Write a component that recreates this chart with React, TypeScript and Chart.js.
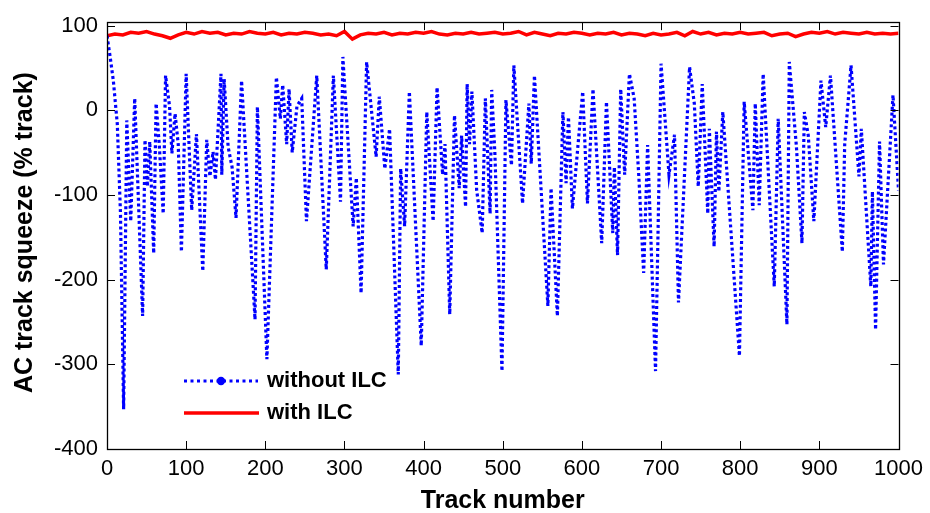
import React, { useEffect, useRef } from "react";
import { Chart, registerables } from "chart.js";

Chart.register(...registerables);

// Blue series (without ILC): track number / squeeze value read at turning points
const blueTrack = [
  0, 4, 8, 13, 17, 21, 25, 30, 35, 45, 48, 51, 54, 59, 62, 66, 71, 74, 79, 82, 86, 90, 94,
  100, 107, 113, 121, 126, 130, 134, 137, 144, 145, 148, 153, 158, 163, 170, 187, 190, 202,
  214, 219, 222, 227, 230, 234, 240, 246, 252, 265, 277, 286, 295, 298, 306, 311, 315, 321,
  328, 340, 344, 351, 357, 368, 371, 376, 382, 397, 404, 412, 417, 424, 427, 433, 439, 445,
  448, 453, 455, 458, 461, 467, 474, 478, 484, 486, 490, 499, 504, 511, 514, 525, 533, 536,
  540, 557, 561, 569, 576, 580, 583, 588, 601, 607, 614, 625, 631, 639, 641, 645, 649, 654,
  660, 666, 672, 678, 683, 693, 700, 710, 717, 722, 736, 742, 747, 752, 759, 761, 767, 770,
  773, 778, 799, 805, 816, 819, 824, 829, 843, 848, 859, 862, 871, 878, 881, 886, 893, 902,
  908, 914, 929, 932, 940, 950, 953, 965, 967, 971, 976, 981, 993, 1000,
];
const blueSqueeze = [
  88, 63, 35, -16, -121, -353, -12, -131, 14, -243, -35, -90, -37, -169, 8, -40, -122, 41, 5, -51, -4, -40, -167,
  43, -118, -28, -190, -35, -78, -49, -82, 43, -76, 37, -43, -67, -127, 35, -247, 4, -294,
  39, -10, 30, -40, 25, -50, 5, 14, -131, 41, -188, 41, -108, 63, -60, -137, -80, -216,
  57, -55, 16, -69, -22, -312, -69, -137, 22, -278, -2, -131, 27, -76, -40, -241, -6, -92,
  -30, -114, 31, -40, 22, -94, -145, 14, -122, 24, -50, -308, 12, -65, 53, -110, 8, -63,
  41, -231, -92, -243, -2, -86, -8, -116, 22, -110, 25, -157, 10, -145, -67, -171, 25, -76,
  43, 14, -80, -192, -41, -308, 55, -76, -29, -227, 51, 8, -90, 31, -122, -22, -161, -25,
  -96, -2, -290, 10, -118, 8, -112, 43, -208, -10, -253, 57, -43, -157, -2, -30, -131, 35,
  -20, 41, -167, -40, 53, -78, -22, -208, -96, -259, -37, -182, 18, -95,
];

// Red series (with ILC): value every 10 tracks
const redSqueeze = [
  88, 90, 89, 92, 91, 93, 90, 88, 85, 89, 92, 90, 93, 91, 92, 89, 91, 90, 93, 91,
  90, 92, 89, 91, 90, 92, 91, 89, 90, 88, 93, 84, 89, 91, 90, 92, 89, 91, 90, 92,
  91, 93, 90, 89, 91, 90, 92, 90, 91, 92, 90, 91, 93, 89, 92, 90, 88, 91, 90, 92,
  91, 89, 91, 90, 92, 89, 91, 90, 88, 91, 89, 90, 92, 88, 93, 90, 92, 89, 91, 90,
  92, 90, 91, 92, 88, 90, 91, 87, 90, 92, 91, 93, 90, 92, 91, 90, 92, 90, 91, 90, 91,
];
const redTrack = redSqueeze.map((_, i) => i * 10);

const xTickValues = [0, 100, 200, 300, 400, 500, 600, 700, 800, 900, 1000];
const yTickValues = [-400, -300, -200, -100, 0, 100];

const seriesLabels = ["without ILC", "with ILC"];
const xTitle = "Track number";
const yTitle = "AC track squeeze (% track)";

const FONT = "'Liberation Sans', Arial, Helvetica, sans-serif";

const matlabPlugin = {
  id: "matlabAxes",
  afterDatasetsDraw(chart: any) {
    const { ctx, chartArea, scales } = chart;
    const { left, right, top, bottom } = chartArea;
    const xs = scales.x;
    const ys = scales.y;
    ctx.save();
    ctx.strokeStyle = "#000";
    ctx.lineWidth = 1;
    ctx.setLineDash([]);
    const tl = 8;
    ctx.beginPath();
    xs.ticks.forEach((t: any) => {
      const px = Math.round(xs.getPixelForValue(t.value)) + 0.5;
      ctx.moveTo(px, bottom);
      ctx.lineTo(px, bottom - tl);
      ctx.moveTo(px, top);
      ctx.lineTo(px, top + tl);
    });
    ys.ticks.forEach((t: any) => {
      const py = Math.round(ys.getPixelForValue(t.value)) + 0.5;
      ctx.moveTo(left, py);
      ctx.lineTo(left + tl, py);
      ctx.moveTo(right, py);
      ctx.lineTo(right - tl, py);
    });
    ctx.stroke();
    ctx.lineWidth = 1.3;
    ctx.strokeRect(Math.round(left) + 0.5, Math.round(top) + 0.5, Math.round(right - left), Math.round(bottom - top));

    // Legend
    const lx0 = 184, lx1 = 258, ly1 = 381, ly2 = 413, tx = 267;
    ctx.lineCap = "butt";
    ctx.strokeStyle = "#0000ff";
    ctx.lineWidth = 3;
    ctx.setLineDash([3, 3.5]);
    ctx.beginPath();
    ctx.moveTo(lx0, ly1);
    ctx.lineTo(lx1, ly1);
    ctx.stroke();
    ctx.setLineDash([]);
    ctx.fillStyle = "#0000ff";
    ctx.beginPath();
    ctx.arc((lx0 + lx1) / 2, ly1, 4.2, 0, Math.PI * 2);
    ctx.fill();
    ctx.strokeStyle = "#ff0000";
    ctx.lineWidth = 3.5;
    ctx.beginPath();
    ctx.moveTo(lx0, ly2);
    ctx.lineTo(lx1 + 1, ly2);
    ctx.stroke();
    ctx.fillStyle = "#000";
    ctx.font = `bold 22px ${FONT}`;
    ctx.textAlign = "left";
    ctx.textBaseline = "middle";
    ctx.fillText(seriesLabels[0], tx, ly1);
    ctx.fillText(seriesLabels[1], tx, ly2);

    // Axis titles
    ctx.font = `bold 25px ${FONT}`;
    ctx.textAlign = "center";
    ctx.textBaseline = "middle";
    ctx.fillText(xTitle, (left + right) / 2, 501);
    ctx.save();
    ctx.translate(25, (top + bottom) / 2 - 3);
    ctx.rotate(-Math.PI / 2);
    ctx.fillText(yTitle, 0, 0);
    ctx.restore();
    ctx.restore();
  },
};

export default function App() {
  const ref = useRef<HTMLCanvasElement | null>(null);
  useEffect(() => {
    if (!ref.current) return;
    const chart = new Chart(ref.current, {
      type: "line",
      data: {
        datasets: [
          {
            label: seriesLabels[0],
            data: blueTrack.map((t, i) => ({ x: t, y: blueSqueeze[i] })),
            borderColor: "#0000ff",
            borderWidth: 3.2,
            borderDash: [3, 2.8],
            borderCapStyle: "butt",
            pointRadius: 0,
            tension: 0,
            fill: false,
          },
          {
            label: seriesLabels[1],
            data: redTrack.map((t, i) => ({ x: t, y: redSqueeze[i] })),
            borderColor: "#ff0000",
            borderWidth: 3.5,
            pointRadius: 0,
            tension: 0,
            fill: false,
          },
        ],
      },
      options: {
        responsive: false,
        animation: false,
        events: [],
        layout: { padding: { top: 17, right: 29, left: 0, bottom: 0 } },
        plugins: { legend: { display: false }, tooltip: { enabled: false }, title: { display: false } },
        scales: {
          x: {
            type: "linear",
            min: 0,
            max: 1000,
            grid: { display: false, drawTicks: false },
            border: { display: false },
            afterBuildTicks: (s: any) => {
              s.ticks = xTickValues.map((v) => ({ value: v }));
            },
            afterFit: (s: any) => {
              s.height = 64;
            },
            ticks: {
              color: "#000",
              padding: 7,
              maxRotation: 0,
              autoSkip: false,
              font: { family: FONT, size: 22 },
              callback: (v: any) => String(v),
            },
          },
          y: {
            type: "linear",
            min: -400,
            max: 104,
            grid: { display: false, drawTicks: false },
            border: { display: false },
            afterBuildTicks: (s: any) => {
              s.ticks = yTickValues.map((v) => ({ value: v }));
            },
            afterFit: (s: any) => {
              s.width = 107;
            },
            ticks: {
              color: "#000",
              padding: 9,
              autoSkip: false,
              font: { family: FONT, size: 22 },
              callback: (v: any) => String(v),
            },
          },
        },
      },
      plugins: [matlabPlugin],
    });
    return () => chart.destroy();
  }, []);
  return (
    <div style={{ position: "absolute", left: 0, top: 0, width: 930, height: 513, background: "#fff" }}>
      <canvas ref={ref} width={930} height={513} style={{ display: "block" }} />
    </div>
  );
}
